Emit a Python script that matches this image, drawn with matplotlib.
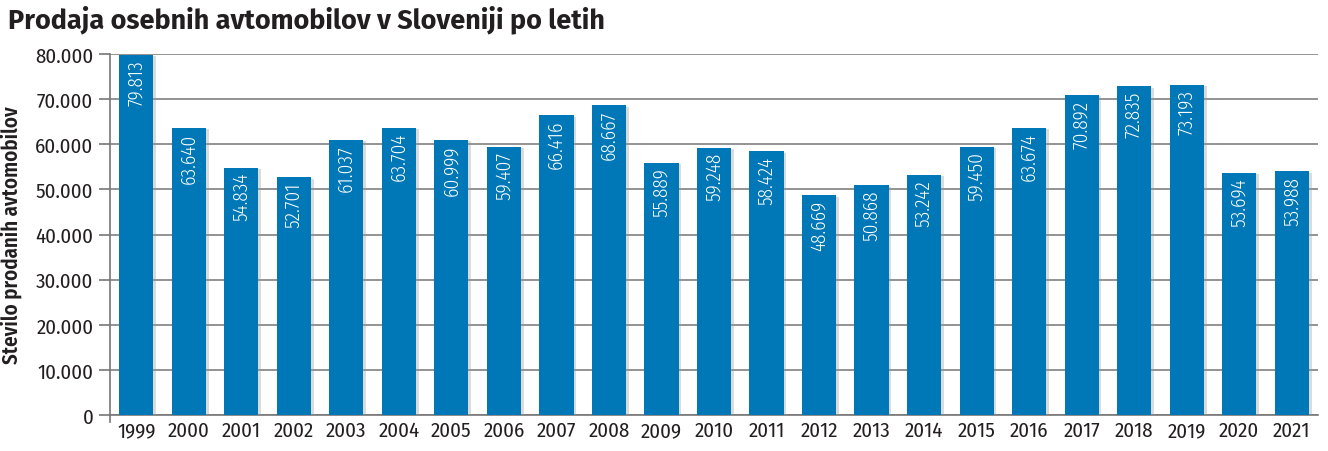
import numpy as np
import matplotlib
matplotlib.use("Agg")
from matplotlib import pyplot as plt
import matplotlib.patheffects as pe

cond = ['Fira Sans Condensed', 'Liberation Sans', 'DejaVu Sans']
plt.rcParams['font.family'] = cond

# podatki
leta = [str(y) for y in range(1999, 2022)]
prodaja = [79813, 63640, 54834, 52701, 61037, 63704, 60999, 59407, 66416, 68667,
           55889, 59248, 58424, 48669, 50868, 53242, 59450, 63674, 70892, 72835,
           73193, 53694, 53988]
yticks = [0, 10000, 20000, 30000, 40000, 50000, 60000, 70000, 80000]


def fmt(v):
    return f"{v:,}".replace(",", ".")


fig = plt.figure(figsize=(13.28, 4.52), dpi=100)
ax = fig.add_axes([110 / 1328, 36 / 452, 1208 / 1328, 361 / 452])

x = np.arange(len(leta))
barva = '#0077b6'
ax.bar(x, prodaja, width=0.65, color=barva, zorder=3,
       path_effects=[pe.SimplePatchShadow(offset=(2, -1), shadow_rgbFace='#999999', alpha=0.35),
                     pe.Normal()])

for xi, v in zip(x, prodaja):
    ax.text(xi, v - 1000, fmt(v), rotation=90, ha='center', va='top',
            color='white', fontsize=14, fontweight=300, zorder=4)

ax.set_xlim(-0.5, len(leta) - 0.5)
ax.set_ylim(0, 80000)
ax.set_yticks(yticks)
ax.set_yticklabels([fmt(t) for t in yticks], fontsize=15, color='#231f20')
ax.set_xticks(x)
ax.set_xticklabels(leta, fontsize=15, color='#231f20')
ax.tick_params(axis='x', length=0, pad=4)
ax.tick_params(axis='y', length=8, width=1.2, color='#777777', pad=4)
ax.grid(axis='y', color='#8a8a8a', linewidth=1.3, zorder=1)

for s in ['top', 'right']:
    ax.spines[s].set_visible(False)
ax.spines['left'].set_color('#777777')
ax.spines['left'].set_linewidth(1.2)
ax.spines['left'].set_bounds(-1500, 80000)
ax.spines['bottom'].set_color('#777777')
ax.spines['bottom'].set_linewidth(1.2)

ax.set_ylabel("Število prodanih avtomobilov", fontsize=15, fontweight=600, color='#231f20')
ax.yaxis.set_label_coords(-0.072, 0.5)

fig.text(8 / 1328, 1 - 20 / 452, "Prodaja osebnih avtomobilov v Sloveniji po letih",
         fontsize=19.5, fontweight='bold', color='#231f20', va='center', ha='left',
         family=['Fira Sans', 'DejaVu Sans'])

fig.savefig("out.png", dpi=100)
